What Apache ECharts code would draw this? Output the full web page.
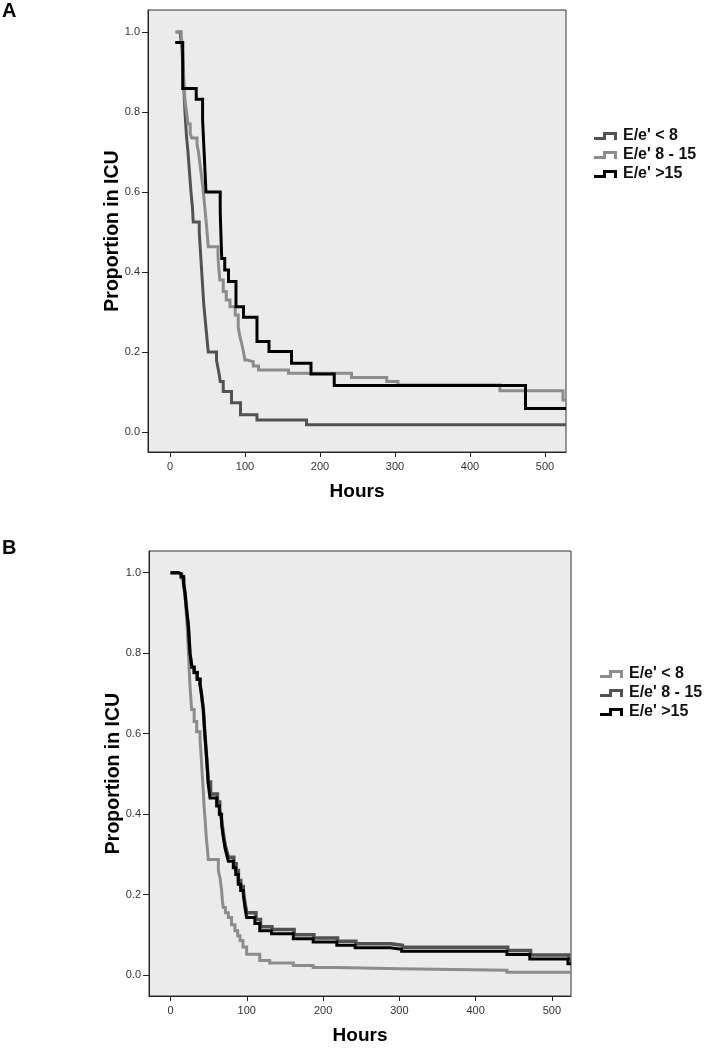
<!DOCTYPE html>
<html>
<head>
<meta charset="utf-8">
<script src="https://cdn.jsdelivr.net/npm/echarts@6/dist/echarts.min.js"></script>
<style>
html,body{margin:0;padding:0;background:#fff;}
#a{position:absolute;left:0;top:0;width:708px;height:520px;}
#b{position:absolute;left:0;top:520px;width:708px;height:530px;}
</style>
</head>
<body>
<div id="a"></div>
<div id="b"></div>
<script>
// ---- Data ----
const seriesNames = ["E/e' < 8", "E/e' 8 - 15", "E/e' >15"];
const xTicks = [0, 100, 200, 300, 400, 500];
const yTicks = [0, 0.2, 0.4, 0.6, 0.8, 1.0];

// Panel A
const hoursA_lt8 = [9,14,16,17,18,19,20,21,22,24,26,28,30,31,39,40,41,42,43,44,45,46.5,48,49.5,51,62,64,66,67,71,82,94,116,182,528];
const propA_lt8  = [1.0,0.99,0.96,0.92,0.88,0.84,0.80,0.77,0.74,0.70,0.65,0.60,0.56,0.525,0.50,0.47,0.44,0.41,0.38,0.35,0.32,0.29,0.26,0.23,0.20,0.18,0.16,0.14,0.126,0.101,0.073,0.043,0.03,0.018,0.018];

const hoursA_8to15 = [7,15,17,18,19,20,22,24,27,29,36,38,40,42,44,45.5,47,49,51,64,65,66.5,71,75,80,87,91,93,95.5,98,100,103,111,118,158,242,289,304,440,524,528];
const propA_8to15  = [1.0,0.99,0.95,0.90,0.86,0.83,0.80,0.77,0.745,0.735,0.72,0.70,0.67,0.64,0.61,0.58,0.55,0.51,0.463,0.44,0.41,0.38,0.351,0.33,0.313,0.2925,0.263,0.24,0.222,0.2,0.18,0.176,0.165,0.155,0.147,0.136,0.126,0.1175,0.103,0.08,0.08];

const hoursA_gt15 = [7,17,35,43.5,45,46.5,48,67,68,69,73,78,88,98,116,132,162,188,219,474,528];
const propA_gt15  = [0.974,0.859,0.832,0.78,0.72,0.66,0.60,0.55,0.49,0.434,0.405,0.376,0.313,0.287,0.226,0.201,0.172,0.145,0.116,0.059,0.059];

// Panel B
const hoursB_lt8 = [0,10,15,18,20,22,23.5,25.5,27.7,31,34.3,38.7,40,41.5,43,44,45.2,47,49.6,62.7,65,67,68,69.2,72,75.8,80,84.5,88,91.1,95,99.8,117,130,161,187,218,301,441,525];
const propB_lt8  = [1.0,0.997,0.985,0.96,0.92,0.86,0.80,0.72,0.66,0.63,0.605,0.585,0.55,0.50,0.456,0.42,0.39,0.34,0.287,0.26,0.24,0.21,0.185,0.168,0.155,0.143,0.125,0.11,0.098,0.086,0.07,0.052,0.036,0.030,0.024,0.019,0.016,0.012,0.007,0.007];

const hoursB_8to15 = [0,10,14,17,19,21,23.4,25.5,28,31,35,38.7,40.5,43,45,47.4,49.6,52.5,61.5,64.5,67,69,71.4,73.5,76,83,86,89,92,95.4,97.5,100,112,118,133,162,188,219,243,289,304,442,472,522,525];
const propB_8to15  = [1.0,0.997,0.99,0.975,0.95,0.91,0.867,0.80,0.765,0.752,0.735,0.723,0.70,0.66,0.60,0.54,0.48,0.45,0.43,0.41,0.385,0.355,0.325,0.31,0.293,0.277,0.26,0.235,0.22,0.21,0.18,0.155,0.138,0.12,0.113,0.1,0.092,0.084,0.078,0.074,0.069,0.061,0.050,0.038,0.038];

const hoursB_gt15 = [0,10,14,17,19,21,23.4,25.5,28,31,35,38.7,40.5,43,45,47.4,49.6,51.8,60.5,64,67,69,71.4,73.5,75.8,82.3,85.5,88.8,92,95.4,97.5,99.7,110.6,117,132.5,161,187,218,242,288,303,441,471,521,525];
const propB_gt15  = [1.0,0.997,0.99,0.975,0.95,0.91,0.867,0.80,0.765,0.752,0.735,0.723,0.70,0.66,0.60,0.538,0.472,0.44,0.42,0.40,0.374,0.345,0.316,0.30,0.283,0.267,0.25,0.226,0.21,0.2,0.17,0.143,0.128,0.11,0.103,0.09,0.082,0.074,0.068,0.064,0.059,0.051,0.040,0.028,0.028];

// ---- Build charts ----
const FONT = "'Liberation Sans', Arial, sans-serif";
const DARK = '#525252', LIGHT = '#8c8c8c', BLACK = '#000000';
const legendIcon = 'path://M0,5L9,5L9,0L23,0L23,8L20,8L20,3L12,3L12,8L0,8Z';

function zip(h, p) { return h.map((v, i) => [v, p[i]]); }

function buildOption(cfg) {
  return {
    animation: false,
    textStyle: { fontFamily: FONT },
    title: {
      text: cfg.letter, left: 2, top: cfg.letterTop, padding: 0,
      textStyle: { fontFamily: FONT, fontSize: 20, fontWeight: 'bold', color: '#000' }
    },
    legend: {
      orient: 'vertical', left: cfg.legendLeft, top: cfg.legendTop,
      itemWidth: 23, itemHeight: 8, itemGap: 3,
      icon: legendIcon,
      data: seriesNames,
      textStyle: { fontFamily: FONT, fontSize: 16, fontWeight: 'bold', color: '#111', padding: [0, 0, 0, 1] }
    },
    grid: {
      left: cfg.grid.left, top: cfg.grid.top, width: cfg.grid.width, height: cfg.grid.height,
      show: true, backgroundColor: '#ebebeb', borderColor: '#333', borderWidth: 1
    },
    xAxis: {
      type: 'value', min: cfg.xMin, max: cfg.xMax,
      name: 'Hours', nameLocation: 'middle', nameGap: 30, nameMoveOverlap: false,
      nameTextStyle: { fontFamily: FONT, fontSize: 19, fontWeight: 'bold', color: '#000' },
      axisLine: { show: true, onZero: false, lineStyle: { color: '#222', width: 1 } },
      axisTick: { show: true, length: 5, lineStyle: { color: '#222' }, customValues: xTicks },
      axisLabel: { fontSize: 11, color: '#333', margin: 9, customValues: xTicks },
      splitLine: { show: false }
    },
    yAxis: {
      type: 'value', min: cfg.yMin, max: cfg.yMax,
      name: 'Proportion in ICU', nameLocation: 'middle', nameGap: 25, nameMoveOverlap: false,
      nameTextStyle: { fontFamily: FONT, fontSize: 19.5, fontWeight: 'bold', color: '#000' },
      axisLine: { show: true, onZero: false, lineStyle: { color: '#222', width: 1 } },
      axisTick: { show: true, length: 6, lineStyle: { color: '#222' }, customValues: yTicks },
      axisLabel: { fontSize: 11, color: '#333', margin: 8, customValues: yTicks,
        formatter: v => Number(v).toFixed(1) },
      splitLine: { show: false }
    },
    series: cfg.series.map(s => ({
      name: s.name, type: 'line', step: 'end', showSymbol: false, symbol: 'none',
      data: s.data, clip: true,
      lineStyle: { color: s.color, width: s.width, cap: 'butt', join: 'miter' },
      itemStyle: { color: s.color }
    }))
  };
}

const chartA = echarts.init(document.getElementById('a'), null, { renderer: 'canvas' });
chartA.setOption(buildOption({
  letter: 'A', letterTop: 1,
  legendLeft: 589, legendTop: 123,
  grid: { left: 148, top: 10, width: 418, height: 442 },
  xMin: -29.3, xMax: 528, yMin: -0.05, yMax: 1.055,
  series: [
    { name: seriesNames[0], data: zip(hoursA_lt8, propA_lt8), color: DARK, width: 3 },
    { name: seriesNames[1], data: zip(hoursA_8to15, propA_8to15), color: LIGHT, width: 3 },
    { name: seriesNames[2], data: zip(hoursA_gt15, propA_gt15), color: BLACK, width: 3 }
  ]
}));

const chartB = echarts.init(document.getElementById('b'), null, { renderer: 'canvas' });
chartB.setOption(buildOption({
  letter: 'B', letterTop: 18,
  legendLeft: 595, legendTop: 141,
  grid: { left: 149, top: 31, width: 422, height: 448 },
  xMin: -28.2, xMax: 525, yMin: -0.052, yMax: 1.054,
  series: [
    { name: seriesNames[0], data: zip(hoursB_lt8, propB_lt8), color: LIGHT, width: 3 },
    { name: seriesNames[1], data: zip(hoursB_8to15, propB_8to15), color: DARK, width: 3.5 },
    { name: seriesNames[2], data: zip(hoursB_gt15, propB_gt15), color: BLACK, width: 3 }
  ]
}));
</script>
</body>
</html>
